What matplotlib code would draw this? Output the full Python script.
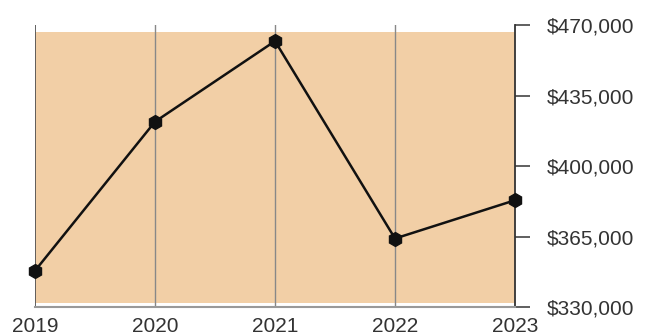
import matplotlib.pyplot as plt

# datos
years = [2019, 2020, 2021, 2022, 2023]
values = [348000, 422000, 462000, 364000, 383000]
y_ticks = [330000, 365000, 400000, 435000, 470000]
band_low, band_high = 332000, 466500

plt.rcParams['font.family'] = ['Liberation Sans', 'DejaVu Sans']

fig = plt.figure(figsize=(6.5, 3.36), dpi=100)
ax = fig.add_axes([35 / 650, 1 - 307 / 336, 480 / 650, 282 / 336])

ax.axhspan(band_low, band_high, color='#F2CFA6', zorder=0, lw=0)
for yr in years[1:-1]:
    ax.axvline(yr, color='#888888', lw=1.0, zorder=1)
ax.axvline(years[0], color='#555555', lw=1.3, zorder=1)

ax.plot(years, values, color='#111111', lw=1.8, marker='h', markersize=10,
        zorder=3, clip_on=False)

ax.set_xlim(years[0], years[-1])
ax.set_ylim(y_ticks[0], y_ticks[-1])

ax.yaxis.tick_right()
ax.set_yticks(y_ticks)
ax.set_yticklabels([f'${v:,}' for v in y_ticks])
ax.set_xticks(years)
ax.set_xticklabels([str(y) for y in years])

ax.tick_params(axis='y', length=11, width=1.2, color='#444444', pad=12,
               labelsize=15, labelcolor='#333333')
ax.tick_params(axis='x', length=0, pad=7, labelsize=15, labelcolor='#333333')

for s in ['top', 'left']:
    ax.spines[s].set_visible(False)
ax.spines['right'].set_color('#333333')
ax.spines['right'].set_linewidth(1.3)
ax.spines['bottom'].set_color('#999999')
ax.spines['bottom'].set_linewidth(1.5)

fig.savefig('out.png', dpi=100)
